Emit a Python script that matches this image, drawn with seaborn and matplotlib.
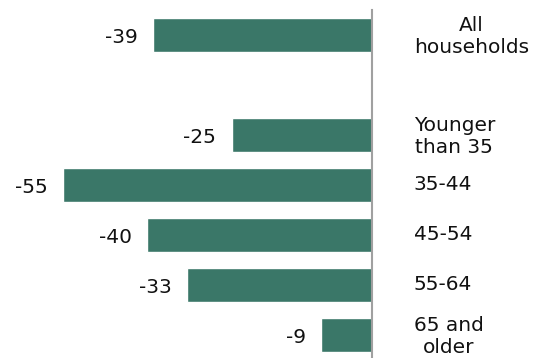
import matplotlib
matplotlib.use("Agg")
import matplotlib.pyplot as plt
import matplotlib.transforms as mtransforms
import seaborn as sns
import pandas as pd

# Change in median net worth by age group (percent)
groups = ["All\nhouseholds", "Younger\nthan 35", "35-44", "45-54", "55-64", "65 and\nolder"]
values = [-39, -25, -55, -40, -33, -9]

# Category order with an empty slot separating the total from the age groups
order = ["All\nhouseholds", " ", "Younger\nthan 35", "35-44", "45-54", "55-64", "65 and\nolder"]

bar_color = "#3a7768"
font_size = 14.5

sns.set_theme(style="white")
plt.rcParams["font.family"] = ["DejaVu Sans"]

df = pd.DataFrame({"group": groups, "value": values})

fig = plt.figure(figsize=(5.36, 3.58), dpi=100)
ax = fig.add_axes([0.0, 0.0, 372 / 536, 1 - 10 / 358])

sns.barplot(data=df, x="value", y="group", order=order, color=bar_color,
            orient="h", width=0.67, saturation=1, ax=ax)

ax.set_xlim(-66.2, 0)
ax.set_ylim(6.46, -0.5)

value_labels = ax.bar_label(ax.containers[0], fmt="%d", padding=11,
                            fontsize=font_size, color="#111111")
# nudge the value labels down a little so they sit on the bar's centre line
for t in value_labels:
    dx, dy = t.xyann
    t.xyann = (dx, dy - 1.8)

# Axis line at zero on the right, category labels beyond it
for side in ["left", "top", "bottom"]:
    ax.spines[side].set_visible(False)
ax.spines["right"].set_visible(True)
ax.spines["right"].set_color("#a0a0a0")
ax.spines["right"].set_linewidth(1.5)

ax.set_xticks([])
ax.yaxis.tick_right()
ax.tick_params(axis="y", length=0, pad=30, labelsize=font_size, labelcolor="#111111")
lift = mtransforms.ScaledTranslation(0, 1.5 / 72, fig.dpi_scale_trans)
for lbl in ax.get_yticklabels():
    lbl.set_multialignment("center")
    lbl.set_horizontalalignment("left")
    lbl.set_linespacing(1.2)
    lbl.set_transform(lbl.get_transform() + lift)
ax.set_xlabel("")
ax.set_ylabel("")

fig.savefig("out.png", dpi=100)
